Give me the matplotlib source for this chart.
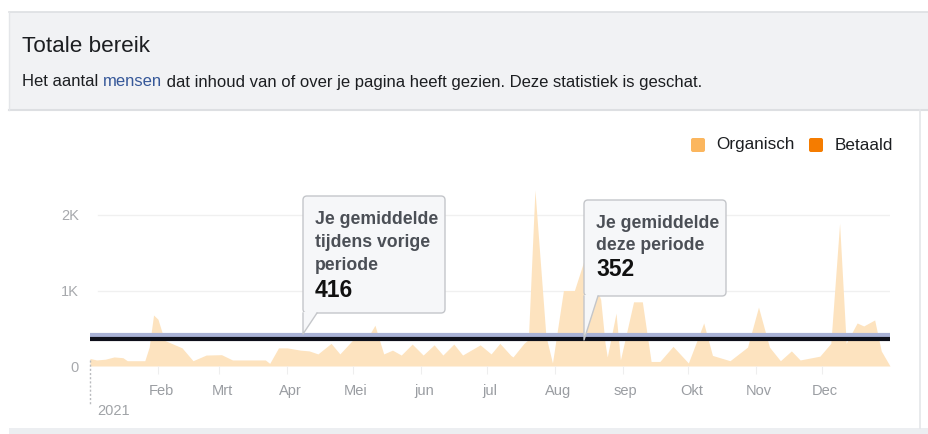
import matplotlib

matplotlib.use("Agg")
import matplotlib.pyplot as plt
from matplotlib.patches import FancyBboxPatch, Rectangle, Polygon
from matplotlib.transforms import offset_copy

plt.rcParams["font.family"] = ["Liberation Sans", "DejaVu Sans"]

# ── data ─────────────────────────────────────────────────────────────────────
days = [0, 3, 7, 11, 15, 17, 25, 27, 29, 31, 34, 42, 47, 53, 60, 65, 71, 80, 82,
        86, 90, 96, 100, 104, 110, 114, 122, 126, 130, 134, 138, 142, 147, 152,
        157, 161, 166, 170, 178, 183, 187, 192, 193, 198, 200, 203, 208, 211,
        216, 221, 224, 226, 229, 233, 235, 236, 240, 242, 248, 252, 256, 260,
        266, 273, 280, 284, 292, 300, 305, 310, 315, 320, 324, 333, 338, 342,
        345, 350, 353, 358, 361, 365]
organisch = [100, 80, 90, 120, 110, 70, 70, 250, 675, 620, 340, 240, 70, 145,
             150, 80, 80, 80, 35, 240, 240, 210, 200, 160, 300, 160, 410, 340,
             540, 160, 210, 145, 290, 145, 280, 145, 290, 145, 280, 160, 300,
             140, 120, 300, 350, 2330, 400, 40, 1000, 1000, 1270, 1450, 1200,
             880, 300, 120, 700, 80, 850, 850, 60, 60, 260, 40, 570, 140, 70,
             250, 780, 250, 70, 200, 80, 130, 300, 1890, 300, 570, 530, 610,
             200, 0]
avg_prev = 416
avg_now = 352

months = ["Feb", "Mrt", "Apr", "Mei", "jun", "jul", "Aug", "sep", "Okt", "Nov", "Dec"]
month_start = [31, 59, 90, 120, 151, 181, 212, 243, 273, 304, 334]

W, H = 929, 434
fig = plt.figure(figsize=(W / 100, H / 100), dpi=100)
fig.patch.set_facecolor("white")

# ── page chrome in pixel coordinates ─────────────────────────────────────────
bg = fig.add_axes([0, 0, 1, 1])
bg.set_xlim(0, W)
bg.set_ylim(H, 0)
bg.axis("off")
bg.add_patch(Rectangle((9, 12), W, 98, facecolor="#f1f2f4", edgecolor="none"))
bg.plot([9, W], [12, 12], color="#dddfe2", lw=1.2)
bg.plot([9, W], [110, 110], color="#dddfe2", lw=1.5)
bg.plot([9, 9], [12, 110], color="#e4e6e9", lw=1)
bg.plot([920, 920], [110, 428], color="#e4e6e9", lw=1.2)
bg.add_patch(Rectangle((9, 428), W, 10, facecolor="#eceef1", edgecolor="none"))

bg.text(22, 46, "Totale bereik", fontsize=16.2, color="#1c1e21", va="center")
sub_y = 82
sub_fs = 12
t1 = bg.text(22, sub_y, "Het aantal ", fontsize=sub_fs, color="#1c1e21", va="center")
fig.canvas.draw()
r = fig.canvas.get_renderer()


def after(t):
    bb = t.get_window_extent(r)
    return bg.transData.inverted().transform((bb.x1, 0))[0]


t2 = bg.text(after(t1), sub_y, "mensen", fontsize=sub_fs, color="#365899", va="center")
bg.text(after(t2), sub_y, " dat inhoud van of over je pagina heeft gezien. Deze statistiek is geschat.",
        fontsize=sub_fs, color="#1c1e21", va="center")

# legend
bg.add_patch(FancyBboxPatch((691, 138), 14, 14, boxstyle="round,pad=0,rounding_size=2",
                            facecolor="#fbb65e", edgecolor="none"))
bg.text(716, 145, "Organisch", fontsize=12.3, color="#1c1e21", va="center")
bg.add_patch(FancyBboxPatch((809, 138), 14, 14, boxstyle="round,pad=0,rounding_size=2",
                            facecolor="#f57c00", edgecolor="none"))
bg.text(835, 145, "Betaald", fontsize=12.3, color="#1c1e21", va="center")

# ── chart ────────────────────────────────────────────────────────────────────
x0, x1, y0, ytop = 90, 890, 366, 180
px_per_k = 75.5
ax = fig.add_axes([x0 / W, 1 - y0 / H, (x1 - x0) / W, (y0 - ytop) / H])
ax.set_xlim(0, 365)
ax.set_ylim(0, (y0 - ytop) / px_per_k * 1000)
ax.patch.set_alpha(0)
for s in ax.spines.values():
    s.set_visible(False)

for g in (1000, 2000):
    ax.axhline(g, xmin=0.01, color="#f0f0f0", lw=1, zorder=0)

ax.fill_between(days, organisch, 0, color="#fde3bf", lw=0, zorder=1)
ax.axhline(avg_prev, color="#a9b2d6", lw=3, zorder=3)
ax.axhline(avg_now, color="#0d0f1a", lw=3, zorder=4)

ax.set_yticks([0, 1000, 2000])
ax.set_yticklabels(["0", "1K", "2K"])
ax.tick_params(axis="y", length=0, pad=8, labelsize=10.5, labelcolor="#a7a9ad")
ax.set_xticks(month_start)
ax.set_xticklabels(months)
ax.tick_params(axis="x", length=6, width=0.8, color="#eeeeee", pad=7,
               labelsize=10.5, labelcolor="#9a9da2")
for lab in ax.get_xticklabels():
    lab.set_transform(offset_copy(lab.get_transform(), fig=fig, x=3, units="dots"))

# ── overlay for year marker and callouts ────────────────────────────────────
top = fig.add_axes([0, 0, 1, 1])
top.set_xlim(0, W)
top.set_ylim(H, 0)
top.axis("off")
top.patch.set_alpha(0)

top.plot([90, 90], [360, 405], color="#b9bbbe", lw=1, ls=(0, (1.5, 1.5)))
top.text(97, 411, "2021", fontsize=10.5, color="#a0a3a7", va="center")


def callout(left, top_y, right, bottom, tip_y, lines, value, line_gap):
    box = FancyBboxPatch((left, top_y), right - left, bottom - top_y,
                         boxstyle="round,pad=0,rounding_size=4",
                         facecolor="#f6f7f9", edgecolor="#c4c6ca", lw=1, zorder=10)
    top.add_patch(box)
    top.add_patch(Polygon([(left, bottom - 1), (left, tip_y), (left + 14, bottom - 1)],
                          closed=True, facecolor="#f6f7f9", edgecolor="none", zorder=11))
    top.plot([left, left, left + 14], [bottom, tip_y, bottom], color="#c4c6ca",
             lw=1, zorder=12)
    y = top_y + 23
    for ln in lines:
        top.text(left + 12, y, ln, fontsize=12.7, fontweight="bold", color="#4b4f56",
                 va="center", zorder=13)
        y += line_gap
    top.text(left + 12, y + 1, value, fontsize=16.5, fontweight="bold", color="#111111",
             va="center", zorder=13)


callout(303, 196, 445, 313, 334, ["Je gemiddelde", "tijdens vorige", "periode"],
        str(avg_prev), 23.5)
callout(584, 200, 726, 296, 340, ["Je gemiddelde", "deze periode"], str(avg_now), 22.5)

fig.savefig("out.png", dpi=100)
